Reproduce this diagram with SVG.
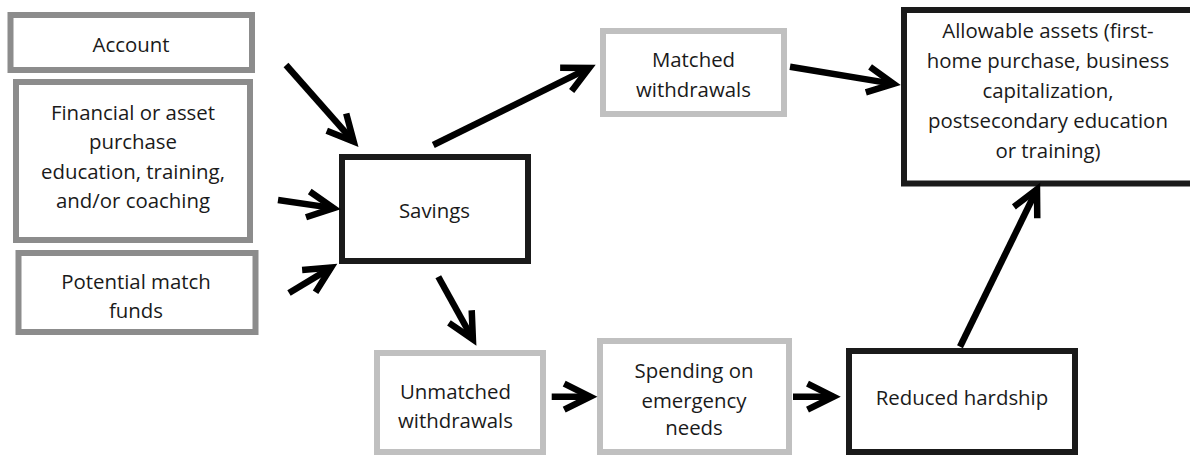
<svg xmlns="http://www.w3.org/2000/svg" width="1190" height="457" viewBox="0 0 1190 457">
<defs>
<style>
.box{fill:#fff;stroke-width:6}
.g1{stroke:#8c8c8c}
.g2{stroke:#c0c0c0}
.bk{stroke:#1a1a1a}
text{font-family:"Open Sans","Noto Sans",sans-serif;font-size:20.4px;fill:#1a1a1a;text-anchor:middle}
.conn line{stroke:#000;stroke-width:6.5;marker-end:url(#ah)}
</style>
<marker id="ah" markerUnits="userSpaceOnUse" viewBox="-32 -18 40 36" refX="0" refY="0" markerWidth="40" markerHeight="36" orient="auto">
<path d="M-26,-13 L0,0 L-26,13" fill="none" stroke="#000" stroke-width="6.5" stroke-linejoin="miter"/>
</marker>
</defs>
<rect width="1190" height="457" fill="#fff"/>
<g id="account"><rect class="box g1" x="10.5" y="15" width="241.5" height="55"/><text x="131" y="52">Account</text></g>
<g id="financial"><rect class="box g1" x="16" y="82" width="234" height="158"/>
<text x="133" y="120">Financial or asset</text><text x="133" y="149.3">purchase</text><text x="133" y="178.6">education, training,</text><text x="133" y="208">and/or coaching</text></g>
<g id="potential"><rect class="box g1" x="18.5" y="253" width="237" height="79"/>
<text x="136" y="289.3">Potential match</text><text x="136" y="318.3">funds</text></g>
<g id="savings"><rect class="box bk" x="342" y="157" width="186" height="104" stroke-width="5"/><text x="434.5" y="217.7">Savings</text></g>
<g id="matched"><rect class="box g2" x="603" y="31" width="181" height="83"/>
<text x="693.5" y="66.7">Matched</text><text x="693.5" y="96.7">withdrawals</text></g>
<g id="allowable"><rect class="box bk" x="904" y="10" width="300" height="173.5"/>
<text x="1048" y="38.3">Allowable assets (first-</text><text x="1048" y="68.3">home purchase, business</text><text x="1048" y="98.3">capitalization,</text><text x="1048" y="128.3">postsecondary education</text><text x="1048" y="158.3">or training)</text></g>
<g id="unmatched"><rect class="box g2" x="377" y="353" width="166" height="99"/>
<text x="455.5" y="399">Unmatched</text><text x="455.5" y="428.3">withdrawals</text></g>
<g id="spending"><rect class="box g2" x="600" y="341" width="189" height="111"/>
<text x="694" y="378.3">Spending on</text><text x="694" y="408.3">emergency</text><text x="694" y="435">needs</text></g>
<g id="reduced"><rect class="box bk" x="849" y="351" width="226" height="101"/><text x="962" y="405">Reduced hardship</text></g>
<g id="connectors" class="conn">
<line x1="286" y1="65" x2="353.7" y2="141.6"/>
<line x1="278" y1="200" x2="333.6" y2="208.1"/>
<line x1="289" y1="293" x2="331.1" y2="267.6"/>
<line x1="433.3" y1="145" x2="589.2" y2="67.9"/>
<line x1="438.3" y1="276.7" x2="472.9" y2="339.3"/>
<line x1="551.7" y1="396.7" x2="590.2" y2="396.7"/>
<line x1="793" y1="396.7" x2="833.5" y2="396.7"/>
<line x1="790" y1="66.7" x2="893.6" y2="83.9"/>
<line x1="960" y1="346.7" x2="1037" y2="189.2"/>
</g>
</svg>
